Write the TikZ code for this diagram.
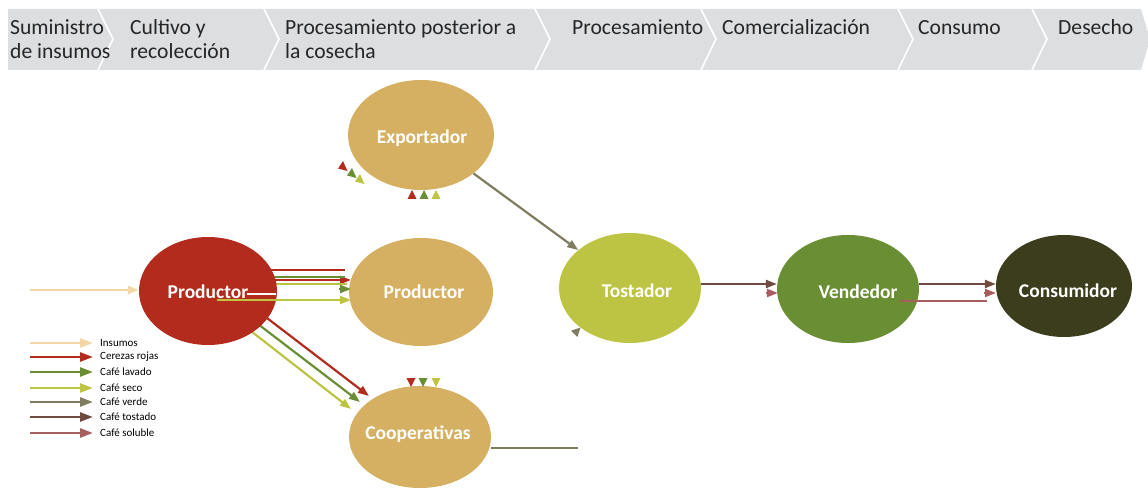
\documentclass[tikz,border=0pt]{standalone}
\usepackage{fontspec}
\setmainfont{Carlito}
\usetikzlibrary{arrows.meta,shapes.geometric}
\definecolor{band}{RGB}{221,222,224}
\definecolor{hdrtext}{RGB}{38,38,38}
\definecolor{insumo}{RGB}{243,214,166}
\definecolor{cereza}{RGB}{178,43,29}
\definecolor{lavado}{RGB}{106,142,51}
\definecolor{seco}{RGB}{189,196,68}
\definecolor{verde}{RGB}{127,124,96}
\definecolor{tostado}{RGB}{111,74,64}
\definecolor{soluble}{RGB}{168,93,94}
\definecolor{gold}{RGB}{214,176,98}
\definecolor{consu}{RGB}{59,61,29}
\begin{document}
\begin{tikzpicture}[x=1pt,y=-1pt,
  hdr/.style={anchor=base west,inner sep=0pt,text=hdrtext,font=\fontsize{21.6}{24}\selectfont},
  ell/.style={ellipse,draw=none,inner sep=0pt},
  lbl/.style={text=white,font=\bfseries\fontsize{19.5}{22}\selectfont},
  flow/.style={line width=2.2pt,-{Triangle[length=11pt,width=8pt]}},
  flatline/.style={line width=2.2pt},
  legarrow/.style={line width=2.6pt,-{Triangle[length=13pt,width=9pt]}},
  legtxt/.style={anchor=west,inner sep=0pt,font=\fontsize{11}{12}\selectfont,text=black},
  sepline/.style={draw=white,line width=1.6pt}
]
\useasboundingbox (0,0) rectangle (1148,494);
% header band
\fill[band] (8,9) -- (1141,9) -- (1150,39) -- (1141,70) -- (8,70) -- cycle;
\foreach \a in {98,264,535,701,898,1032}{
  \draw[sepline] (\a,9) -- (\a+15,39) -- (\a,70);
}
\node[hdr] (h1a) at (10,35) {Suministro};
\node[hdr] (h1b) at (10,59) {de insumos};
\node[hdr] (h2a) at (130,35) {Cultivo y};
\node[hdr] (h2b) at (130,59) {recolección};
\node[hdr] (h3a) at (285,35) {Procesamiento posterior a};
\node[hdr] (h3b) at (285,59) {la cosecha};
\node[hdr] (h4) at (572,35) {Procesamiento};
\node[hdr] (h5) at (722,35) {Comercialización};
\node[hdr] (h6) at (918,35) {Consumo};
\node[hdr] (h7) at (1058,35) {Desecho};

% diagonal flows (behind the producer ellipse)
\coordinate (dr1) at (263,315); \coordinate (dr2) at (369,396);
\coordinate (dg1) at (254,321); \coordinate (dg2) at (360,402);
\coordinate (dy1) at (247,328); \coordinate (dy2) at (351,409);
\draw[flow,cereza] (dr1) -- (dr2);
\draw[flow,lavado] (dg1) -- (dg2);
\draw[flow,seco] (dy1) -- (dy2);
% horizontal flows behind
\coordinate (hr1) at (265,270); \coordinate (hr2) at (345,270);
\coordinate (hc1) at (265,280); \coordinate (hc2) at (351,280);
\coordinate (hg1) at (265,277); \coordinate (hg2) at (345,277);
\coordinate (hs1) at (265,284); \coordinate (hs2) at (347,284);
\draw[flatline,cereza] (hr1) -- (hr2);
\draw[flow,cereza] (hc1) -- (hc2);
\draw[flatline,lavado] (hg1) -- (hg2);
\draw[flatline,seco] (hs1) -- (hs2);

% nodes
\node[ell,fill=gold,minimum width=146pt,minimum height=110pt,label={[lbl,xshift=1pt,yshift=-3pt]center:Exportador}] (exp) at (421,135) {};
\node[ell,fill=cereza,minimum width=138pt,minimum height=108pt,label={[lbl,yshift=-1pt]center:Productor}] (prodR) at (208,291) {};
\node[ell,fill=gold,minimum width=144pt,minimum height=108pt,label={[lbl,xshift=3pt]center:Productor}] (prodG) at (421,292) {};
\node[ell,fill=gold,minimum width=142pt,minimum height=102pt,label={[lbl,xshift=-2pt,yshift=3pt]center:Cooperativas}] (coop) at (420,437) {};
\node[ell,fill=seco,minimum width=142pt,minimum height=110pt,label={[lbl,xshift=7pt,yshift=-3pt]center:Tostador}] (tost) at (630,288) {};
\node[ell,fill=lavado,minimum width=142pt,minimum height=108pt,label={[lbl,xshift=10pt,yshift=-3pt]center:Vendedor}] (vend) at (848,289) {};
\node[ell,fill=consu,minimum width=136pt,minimum height=102pt,label={[lbl,xshift=4pt,yshift=-5pt]center:Consumidor}] (cons) at (1064,286) {};

% insumos
\coordinate (in0) at (30,290);
\draw[flow,insumo] (in0) -- (prodR.west |- 0,290);
% flows over the ellipse
\coordinate (hh1) at (339,289); \coordinate (hh2) at (351,289);
\draw[flow,lavado] (hh1) -- (hh2);
\coordinate (hw1) at (247,294); \coordinate (hw2) at (276,294);
\draw[line width=1.4pt,white] (hw1) -- (hw2);
\coordinate (hy1) at (217,300); \coordinate (hy2) at (351,300);
\draw[flow,seco] (hy1) -- (hy2);

% small heads below Exportador
\foreach \c/\x in {cereza/412,lavado/424,seco/436}{
  \fill[\c] (\x,190) -- (\x+4.5,199) -- (\x-4.5,199) -- cycle;
}
\foreach \c/\x/\y in {cereza/343/166,lavado/352/173,seco/360/179}{
  \fill[\c,shift={(\x,\y)}] (0,-5) -- (4.5,5) -- (-5,2.5) -- cycle;
}
% small heads above Cooperativas
\foreach \c/\x in {cereza/411,lavado/423,seco/436}{
  \fill[\c] (\x,387) -- (\x+4.5,378) -- (\x-4.5,378) -- cycle;
}
% Exportador -> Tostador
\draw[flow,verde] (exp) -- (tost);
% small head near Tostador
\fill[verde,shift={(577,331)}] (3.5,-3.5) -- (0.35,5.95) -- (-5.95,-0.35) -- cycle;
% Cooperativas outgoing line
\coordinate (cooE) at (578,448);
\draw[flatline,verde] (coop.east |- 0,448) -- (cooE);
% Tostador -> Vendedor
\draw[flow,tostado] (tost.east |- 0,284) -- (vend.west |- 0,284);
\coordinate (rv1) at (766,293); \coordinate (rv2) at (778,293);
\draw[flow,soluble] (rv1) -- (rv2);
% Vendedor -> Consumidor
\draw[flow,tostado] (vend.east |- 0,284) -- (cons.west |- 0,284);
\coordinate (rs1) at (900,301); \coordinate (rs2) at (987,301);
\draw[flatline,soluble] (rs1) -- (rs2);
\coordinate (rc1) at (984,293); \coordinate (rc2) at (996,293);
\draw[flow,soluble] (rc1) -- (rc2);

% legend
\foreach \i/\c/\y/\t in {1/insumo/343/Insumos,2/cereza/357/Cerezas rojas,3/lavado/372/Café lavado,4/seco/388/Café seco,5/verde/402/Café verde,6/tostado/417/Café tostado,7/soluble/433/Café soluble}{
  \coordinate (la\i) at (30,\y);
  \coordinate (lb\i) at (93,\y);
  \draw[legarrow,\c] (la\i) -- (lb\i);
  \node[legtxt] (lt\i) at (100,\y) {\t};
}
\end{tikzpicture}
\end{document}
